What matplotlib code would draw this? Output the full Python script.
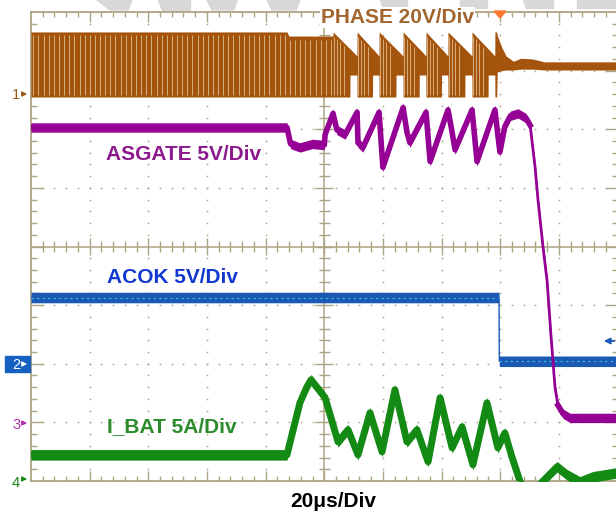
import numpy as np
import matplotlib.pyplot as plt
from matplotlib.patches import Polygon, Rectangle, FancyArrowPatch
from matplotlib.collections import LineCollection

plt.rcParams['font.family'] = ['Liberation Sans', 'DejaVu Sans']

W, H = 616, 515

# scope screen: 10 x 8 divisions, 20 us/div
us_per_div = 20
n_xdiv, n_ydiv = 10, 8
t_end = us_per_div * n_xdiv

# channel ground marker (div from bottom) and scale per div
gnd = {'phase': 6.60, 'acok': 1.99, 'asgate': 0.99, 'ibat': 0.02}
vdiv = {'phase': 20, 'acok': 5, 'asgate': 5, 'ibat': 5}

labels = ['PHASE 20V/Div', 'ASGATE 5V/Div', 'ACOK 5V/Div', 'I_BAT 5A/Div']
time_label = '20μs/Div'

# PHASE (V): continuous switching, pulse-skipping bursts, then off
phase_hi, phase_lo = 21.2, -1.0
phase_dense_end = 87.3
phase_pre_top = 19.8
phase_burst_us = [103.0, 111.2, 118.7, 126.9, 134.7, 142.2, 150.4, 158.2]
phase_tail_top, phase_ring_lo = 13.0, 6.5
phase_off_t = [158.8, 159.0, 160.5, 162.0, 164.5, 167.0, 171.0, 175.0, 200.0]
phase_off_top = [21.2, 20.0, 16.0, 13.0, 11.2, 12.2, 12.0, 11.0, 11.0]
phase_off_bot = [-1.0, 7.5, 8.0, 8.2, 8.2, 8.5, 8.5, 8.2, 8.2]
phase_sw_us = 1.75

# ASGATE (V)
asgate_t = [0, 87.3, 88.5, 91.7, 96.0, 100.0, 100.3, 103.0, 104.3, 107.1,
            111.2, 111.5, 113.2, 118.7, 120.0, 126.9, 128.2, 129.2, 134.7, 136.1,
            142.2, 143.6, 144.6, 150.4, 152.1, 158.2, 159.9, 161.6, 163.5, 166.1,
            168.8, 170.2, 171.9, 172.9, 174.6, 176.0, 177.3, 178.7, 179.7, 181.4,
            183.8, 200]
asgate_v = [25.2, 25.2, 23.8, 23.5, 23.8, 23.7, 24.6, 26.4, 25.0, 24.6,
            26.5, 23.9, 23.5, 26.5, 21.8, 26.9, 24.8, 23.9, 26.5, 22.3,
            26.7, 24.8, 23.3, 26.7, 22.3, 26.7, 23.1, 25.3, 26.2, 26.4,
            26.0, 25.4, 21.8, 19.0, 15.0, 12.1, 7.5, 3.0, 1.5, 0.8,
            0.43, 0.43]
asgate_fall_us = (170.2, 179.7)

# ACOK (V)
acok_t = [0, 159.6, 159.7, 200]
acok_v = [5.7, 5.7, 0.26, 0.26]

# I_BAT (A)
ibat_t = [0, 87.3, 88.3, 91.7, 94.1, 95.5, 100.3, 104.7, 108.1, 111.5,
          115.6, 119.7, 124.1, 128.2, 131.6, 135.4, 139.5, 143.6, 147.0, 150.7,
          155.5, 159.2, 161.6, 164.0, 166.8, 170.2, 174.3, 179.4, 182.8, 187.2,
          191.6, 200]
ibat_a = [2.13, 2.13, 3.16, 6.57, 7.93, 8.53, 7.0, 3.24, 4.27, 2.13,
          5.72, 2.39, 7.68, 3.24, 4.27, 1.54, 7.0, 2.73, 4.52, 1.28,
          6.57, 2.73, 4.0, 1.96, -0.17, -1.3, -0.17, 1.11, 0.43, -0.17,
          0.26, 0.6]

c_phase, c_phase_lt = '#a4540c', '#d8ae80'
c_asgate = '#950095'
c_acok, c_acok_lt = '#1a5ab4', '#3cc0e0'
c_ibat = '#138a13'
c_grid = '#aca483'


def sy(v, ch):
    return gnd[ch] + np.asarray(v, float) / vdiv[ch]


def fp(x, y):
    return (x / W, 1 - y / H)


fig = plt.figure(figsize=(W / 100, H / 100), dpi=100)
ax = fig.add_axes([31 / W, (H - 481) / H, 586.5 / W, 469 / H])
ax.set_xlim(0, t_end)
ax.set_ylim(0, n_ydiv)
ax.set_xticks([])
ax.set_yticks([])
for s in ax.spines.values():
    s.set_color(c_grid)
    s.set_linewidth(1.3)

# dotted graticule
xs_minor = np.arange(0, t_end + 0.01, us_per_div / 5)
ys_minor = np.arange(0, n_ydiv + 0.01, 0.2)
for k in range(1, n_xdiv):
    if k != n_xdiv // 2:
        ax.plot([k * us_per_div] * len(ys_minor), ys_minor, ls='none', marker='s',
                ms=1.1, mew=0, color=c_grid, zorder=1)
for j in range(1, n_ydiv):
    if j != n_ydiv // 2:
        ax.plot(xs_minor, [j] * len(xs_minor), ls='none', marker='s',
                ms=1.1, mew=0, color=c_grid, zorder=1)

ax.axvline(t_end / 2, color=c_grid, lw=1.1, zorder=1)
ax.axhline(n_ydiv / 2, color=c_grid, lw=1.1, zorder=1)

segs = []
for k in range(1, 5 * n_xdiv):
    x = k * us_per_div / 5
    big = k % 5 == 0
    L = 0.17 if big else 0.09
    segs += [[(x, n_ydiv), (x, n_ydiv - L)], [(x, 0), (x, L)]]
    Lc = 0.15 if big else 0.09
    segs.append([(x, n_ydiv / 2 - Lc), (x, n_ydiv / 2 + Lc)])
for j in range(1, 5 * n_ydiv):
    y = j * 0.2
    big = j % 5 == 0
    L = (0.2 if big else 0.1) * us_per_div
    segs += [[(0, y), (L, y)], [(t_end, y), (t_end - L, y)]]
    Lc = (0.15 if big else 0.09) * us_per_div
    segs.append([(t_end / 2 - Lc, y), (t_end / 2 + Lc, y)])
ax.add_collection(LineCollection(segs, colors=c_grid, linewidths=1.0, zorder=1))

# PHASE envelope
pt = [0, phase_dense_end, phase_dense_end + 0.6, phase_burst_us[0] - 0.05]
ptop = [phase_hi, phase_hi, phase_pre_top, phase_pre_top]
pbot = [phase_lo] * 4
stripes = list(np.arange(0.8, phase_burst_us[0] - 0.5, phase_sw_us))
for s, n in zip(phase_burst_us[:-1], phase_burst_us[1:]):
    T = n - s
    mid_top = phase_hi - (phase_hi - phase_tail_top) * 0.7
    pt += [s, s + 0.7 * T, s + 0.7 * T + 0.05, n - 0.05]
    ptop += [phase_hi, mid_top, mid_top, phase_tail_top]
    pbot += [phase_lo, phase_lo, phase_ring_lo, phase_ring_lo]
    stripes += [s + 0.4, s + 1.3, s + 2.4, s + 3.6]
pt += [phase_burst_us[-1]] + phase_off_t
ptop += [phase_hi] + phase_off_top
pbot += [phase_lo] + phase_off_bot

ax.fill_between(pt, sy(pbot, 'phase'), sy(ptop, 'phase'), color=c_phase, lw=0, zorder=3)
st_top = np.interp(stripes, pt, ptop) - 1.2
st_bot = np.interp(stripes, pt, pbot) + 0.6
ax.vlines(stripes, sy(st_bot, 'phase'), sy(st_top, 'phase'), color=c_phase_lt, lw=0.7, zorder=3)

# ACOK
acok_v = np.array(acok_v)
ax.fill_between(acok_t, sy(acok_v - 0.45, 'acok'), sy(acok_v + 0.45, 'acok'),
                color=c_acok, lw=0, zorder=3)
ax.plot(acok_t, sy(acok_v, 'acok'), color=c_acok, lw=1.0, zorder=3)
ax.plot(acok_t[:2], sy(acok_v[:2], 'acok'), color=c_acok_lt, lw=0.8, ls=(0, (2, 3)), zorder=3)
ax.plot(acok_t[2:], sy(acok_v[2:], 'acok'), color=c_acok_lt, lw=0.8, ls=(0, (2, 3)), zorder=3)

# I_BAT
ibat_a = np.array(ibat_a)
ax.fill_between(ibat_t, sy(ibat_a - 0.45, 'ibat'), sy(ibat_a + 0.45, 'ibat'),
                color=c_ibat, lw=0, zorder=3)
ax.plot(ibat_t, sy(ibat_a, 'ibat'), color=c_ibat, lw=5.0, zorder=3,
        solid_joinstyle='round', solid_capstyle='butt')

# ASGATE: thick noisy band, thin fast fall
at = np.array(asgate_t)
av = np.array(asgate_v)
ax.fill_between(at, sy(av - 0.4, 'asgate'), sy(av + 0.4, 'asgate'),
                color=c_asgate, lw=0, zorder=4)
pre = at <= asgate_fall_us[0]
post = at >= asgate_fall_us[1]
fall = ~pre & ~post
fall_i = np.r_[np.flatnonzero(pre)[-1], np.flatnonzero(fall), np.flatnonzero(post)[0]]
ax.plot(at[pre], sy(av[pre], 'asgate'), color=c_asgate, lw=4.0, zorder=4,
        solid_joinstyle='round')
ax.plot(at[post], sy(av[post], 'asgate'), color=c_asgate, lw=4.0, zorder=4,
        solid_joinstyle='round')
ax.plot(at[fall_i], sy(av[fall_i], 'asgate'), color=c_asgate, lw=2.0, zorder=4)

# trace labels
tkw = dict(fontsize=15, fontweight='bold', ha='left', va='baseline')
fig.text(*fp(321, 23), labels[0], color='#a2652d',
         bbox=dict(fc='white', ec='none', pad=1.0), **tkw)
fig.text(*fp(106, 160), labels[1], color='#8c1a8c', **tkw)
fig.text(*fp(107, 283), labels[2], color='#1238d0', **tkw)
fig.text(*fp(107, 432), labels[3], color='#2a8c2a', **tkw)
fig.text(*fp(290, 507), time_label, color='black', **tkw)

# channel markers on the left
fig.add_artist(Rectangle(fp(5, 372), 25 / W, 16 / H, transform=fig.transFigure,
                         color='#1560c0'))
marks = [('1', 94, 99, '#9a5a1e'), ('2', 364, 369, 'white'),
         ('3', 423, 429, '#b030b0'), ('4', 479, 487, '#1a8a1a')]
for txt, ya, yb, col in marks:
    fig.text(*fp(12, yb), txt, color=col, fontsize=10.5, ha='left', va='baseline')
    fig.add_artist(FancyArrowPatch(fp(20, ya), fp(30, ya), transform=fig.transFigure,
                                   arrowstyle='-|>', mutation_scale=7, color=col, lw=1.0))

# trigger marker and right-side arrow
fig.add_artist(Polygon([fp(494, 11), fp(506, 11), fp(500, 18)], closed=True,
                       transform=fig.transFigure, color='#ff7a30'))
fig.add_artist(FancyArrowPatch(fp(617, 341), fp(601, 341), transform=fig.transFigure,
                               arrowstyle='-|>', mutation_scale=9, color=c_acok, lw=1.3))

# faint watermark remnants above the screen
watermark = [[(97, 0), (132, 0), (128, 10), (110, 10)],
             [(158, 0), (190, 0), (190, 10), (162, 10)],
             [(207, 0), (237, 0), (234, 10), (212, 10)],
             [(267, 0), (300, 0), (296, 10), (272, 10)],
             [(380, 0), (407, 0), (407, 8), (383, 8)],
             [(460, 0), (487, 0), (487, 8), (460, 8)],
             [(523, 0), (553, 0), (553, 8), (526, 8)],
             [(577, 0), (616, 0), (616, 8), (577, 8)]]
for poly in watermark:
    fig.add_artist(Polygon([fp(x, y) for x, y in poly], closed=True,
                           transform=fig.transFigure, color='#d8d8d8', zorder=0))

fig.savefig('out.png', dpi=100)
